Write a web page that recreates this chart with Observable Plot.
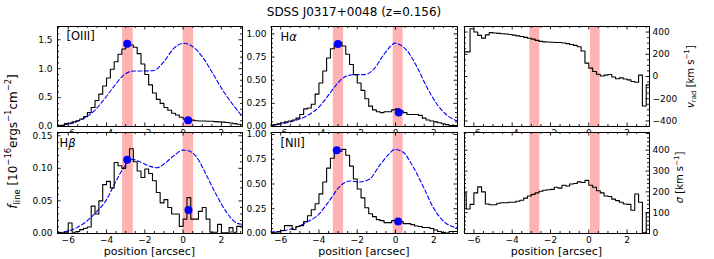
<!DOCTYPE html>
<html><head><meta charset="utf-8">
<script src="https://cdn.jsdelivr.net/npm/d3@7"></script>
<script src="https://cdn.jsdelivr.net/npm/@observablehq/plot@0.6"></script>
<style>
html,body{margin:0;padding:0;background:#fff;}
#fig{position:relative;width:714px;height:259px;overflow:hidden;font-family:"DejaVu Sans",sans-serif;}
#fig svg{position:absolute;}
</style></head><body><div id="fig"></div>
<script>
// ---------- data ----------
const positions = [-6.7,-6.5,-6.3,-6.1,-5.9,-5.7,-5.5,-5.3,-5.1,-4.9,-4.7,-4.5,-4.3,-4.1,-3.9,-3.7,-3.5,-3.3,-3.1,-2.9,-2.7,-2.5,-2.3,-2.1,-1.9,-1.7,-1.5,-1.3,-1.1,-0.9,-0.7,-0.5,-0.3,-0.1,0.1,0.3,0.5,0.7,0.9,1.1,1.3,1.5,1.7,1.9,2.1,2.3,2.5,2.7,2.9,3.1,3.3];

const fluxOIII = [0.01,0.01,0.02,0.05,0.06,0.08,0.10,0.13,0.17,0.24,0.33,0.45,0.56,0.70,0.84,0.99,1.12,1.25,1.34,1.39,1.41,1.37,1.26,1.08,0.90,0.72,0.58,0.47,0.40,0.33,0.28,0.23,0.20,0.16,0.13,0.12,0.11,0.10,0.095,0.095,0.09,0.09,0.085,0.08,0.075,0.07,0.06,0.05,0.04,0.03,0.03];
const fluxHa = [0.01,0.01,0.02,0.03,0.04,0.05,0.06,0.07,0.09,0.13,0.19,0.20,0.24,0.35,0.47,0.60,0.74,0.84,0.89,0.91,0.87,0.78,0.67,0.56,0.47,0.39,0.30,0.22,0.18,0.16,0.15,0.16,0.16,0.18,0.19,0.17,0.15,0.13,0.13,0.13,0.12,0.09,0.07,0.06,0.05,0.04,0.03,0.02,0.01,0.01,0.01];
const fluxHb = [0.001,0.001,0.001,0.002,0.016,0.002,0.003,0.006,0.008,0.010,0.042,0.030,0.050,0.075,0.080,0.070,0.109,0.104,0.100,0.117,0.130,0.110,0.096,0.086,0.099,0.092,0.081,0.063,0.047,0.052,0.040,0.030,0.030,0.011,0.022,0.055,0.022,0.022,0.034,0.040,0.022,0.002,0.002,0.014,0.001,0.001,0.009,0.002,0.011,0.011,0.011];
const fluxNII = [0.01,0.01,0.012,0.015,0.03,0.08,0.08,0.04,0.07,0.08,0.12,0.18,0.24,0.30,0.40,0.52,0.66,0.76,0.81,0.83,0.85,0.79,0.68,0.55,0.45,0.36,0.26,0.20,0.17,0.14,0.13,0.11,0.11,0.13,0.13,0.12,0.10,0.10,0.09,0.075,0.07,0.06,0.06,0.05,0.035,0.02,0.01,0.005,0.02,0.02,0.02];
const vrad = [222,222,222,430,400,370,345,375,395,392,388,385,382,378,372,366,360,352,344,336,325,316,312,310,308,306,306,302,296,288,280,268,230,120,75,45,20,5,12,18,-5,-20,-12,-22,-30,-45,-52,12,-265,-75,-75];
const sigma = [195,195,118,140,195,224,200,142,138,138,145,148,148,150,150,155,160,170,180,188,195,203,208,210,212,222,218,232,228,238,240,248,245,255,232,222,205,195,180,178,165,158,150,142,140,112,190,150,3,100,100];

// model (dashed) profiles
const modelXOIII = [-6.58,-5.89,-5.19,-4.67,-4.15,-3.62,-3.1,-2.58,-2.06,-1.53,-1.01,-0.49,0.03,0.55,1.08,1.6,2.12,2.64,3.1];
const modelYOIII = [0.01,0.046,0.14,0.26,0.46,0.69,0.89,0.96,0.96,0.97,1.12,1.35,1.44,1.37,1.17,0.89,0.6,0.36,0.17];
const modelXHa = [-6.48,-5.5,-4.6,-4,-3.57,-3.05,-2.7,-2.17,-1.65,-1.13,-0.6,0,0.26,0.6,1.13,1.65,2.17,2.7,3.22];
const modelYHa = [0.01,0.05,0.12,0.21,0.32,0.46,0.53,0.56,0.56,0.62,0.78,0.9,0.88,0.82,0.64,0.42,0.24,0.12,0.06];
const modelXHb = [-6.55,-5.55,-5.03,-4.5,-4,-3.55,-3.03,-2.68,-2.25,-1.72,-1.37,-0.94,-0.5,0,0.28,0.71,1.24,1.76,2.28,2.8,3.1];
const modelYHb = [0.001,0.009,0.019,0.034,0.052,0.078,0.104,0.114,0.11,0.103,0.101,0.108,0.119,0.128,0.127,0.117,0.088,0.058,0.032,0.016,0.014];
const modelXNII = [-6.53,-5.56,-4.68,-3.98,-3.46,-2.93,-2.4,-1.88,-1.35,-0.82,-0.3,-0.04,0.4,0.93,1.46,1.98,2.5,3.22];
const modelYNII = [0.014,0.04,0.11,0.2,0.33,0.47,0.53,0.52,0.55,0.69,0.81,0.85,0.82,0.67,0.47,0.26,0.126,0.058];

// aperture points
const dotXOIII = [-2.92, 0.26], dotYOIII = [1.43, 0.11];
const dotXHa = [-3.01, 0.17], dotYHa = [0.89, 0.15];
const dotXHb = [-2.92, 0.28], dotYHb = [0.113, 0.036];
const dotXNII = [-3.07, 0.14], dotYNII = [0.84, 0.12];

// aperture bands (start, end) per column
const bandStartLeft = [-3.16, 0.0], bandEndLeft = [-2.6, 0.55];
const bandStartMid = [-3.25, -0.12], bandEndMid = [-2.71, 0.4];
const bandStartRight = [-3.08, 0.09], bandEndRight = [-2.56, 0.59];

// axis domains and ticks
const xDomLeft = [-6.56, 3.1], xDomMid = [-6.48, 3.24], xDomRight = [-6.49, 3.17];
const xMajor = [-6, -4, -2, 0, 2];
const xMajorLabels = ["−6", "−4", "−2", "0", "2"];
const xMinor = [-6.5,-5.5,-5,-4.5,-3.5,-3,-2.5,-1.5,-1,-0.5,0.5,1,1.5,2.5,3];

const yMajorOIII = [0, 0.5, 1.0, 1.5], yLabelsOIII = ["0.0", "0.5", "1.0", "1.5"];
const yMajorHa = [0, 0.25, 0.5, 0.75, 1.0], yLabelsHa = ["0.00", "0.25", "0.50", "0.75", "1.00"];
const yMajorHb = [0, 0.05, 0.10, 0.15], yLabelsHb = ["0.00", "0.05", "0.10", "0.15"];
const yMajorV = [-400, -200, 0, 200, 400], yLabelsV = ["−400", "−200", "0", "200", "400"];
const yMajorS = [0, 100, 200, 300, 400], yLabelsS = ["0", "100", "200", "300", "400"];

const lineNames = ["[OIII]", "Hα", "Hβ", "[NII]"];

// ---------- drawing ----------
const fig = document.getElementById("fig");

function minorTicks(step, dom, majors) {
  const out = [];
  const start = Math.ceil(dom[0] / step - 1e-9);
  for (let k = start; k * step <= dom[1] + 1e-9; k++) {
    const v = +(k * step).toFixed(6);
    if (!majors.some(m => Math.abs(m - v) < 1e-9)) out.push(v);
  }
  return out;
}

function panel(p) {
  const [x0, y0, w, h] = p.frame;
  const ML = 40, MR = 40, MT = 12, MB = 24;
  const rows = positions.map((x, i) => ({x, y: p.series[i]}));
  const bands = p.bandStart.map((s, i) => ({a: s, b: p.bandEnd[i]}));
  const yMinor = minorTicks(p.yMinorStep, p.yDomain, p.yMajor);
  const marks = [];
  if (p.cover) marks.push(Plot.frame({fill: "white", stroke: "none"}));
  marks.push(Plot.rect(bands, {x1: "a", x2: "b", y1: p.yDomain[0], y2: p.yDomain[1], fill: "#ff0000", fillOpacity: 0.3}));
  if (p.modelX) {
    const m = p.modelX.map((x, i) => ({x, y: p.modelY[i]}));
    marks.push(Plot.line(m, {x: "x", y: "y", stroke: "#0000ff", strokeWidth: 1.1, strokeDasharray: "4,2.4", curve: "monotone-x", clip: true}));
  }
  marks.push(Plot.line(rows, {x: "x", y: "y", curve: "step", stroke: "black", strokeWidth: 1.1, clip: true}));
  if (p.dotX) {
    const d = p.dotX.map((x, i) => ({x, y: p.dotY[i]}));
    marks.push(Plot.dot(d, {x: "x", y: "y", r: 4, fill: "#0000ff", stroke: "none"}));
  }
  const tk = {stroke: "black", strokeWidth: 0.9};
  marks.push(
    Plot.tickX(xMajor, {x: d => d, insetTop: h - 3.5, ...tk}),
    Plot.tickX(xMajor, {x: d => d, insetBottom: h - 3.5, ...tk}),
    Plot.tickX(xMinor, {x: d => d, insetTop: h - 2, ...tk}),
    Plot.tickX(xMinor, {x: d => d, insetBottom: h - 2, ...tk}),
    Plot.tickY(p.yMajor, {y: d => d, insetRight: w - 3.5, ...tk}),
    Plot.tickY(p.yMajor, {y: d => d, insetLeft: w - 3.5, ...tk}),
    Plot.tickY(yMinor, {y: d => d, insetRight: w - 2, ...tk}),
    Plot.tickY(yMinor, {y: d => d, insetLeft: w - 2, ...tk}),
    Plot.frame({stroke: "black", strokeWidth: 1}),
    Plot.axisX({ticks: xMajor, tickSize: 0, tickPadding: 3.5, tickFormat: d => xMajorLabels[xMajor.indexOf(d)], label: null, fill: "black"}),
    Plot.axisY({anchor: p.ySide, ticks: p.yMajor, tickSize: 0, tickPadding: p.ySide === "left" ? 5 : 3,
      tickFormat: d => p.yLabels[p.yMajor.indexOf(d)], label: null, fill: "black"})
  );
  const svg = Plot.plot({
    width: w + ML + MR, height: h + MT + MB,
    marginLeft: ML, marginRight: MR, marginTop: MT, marginBottom: MB,
    x: {domain: p.xDomain}, y: {domain: p.yDomain},
    style: {background: "transparent", overflow: "visible", fontFamily: "DejaVu Sans", fontSize: "9px", color: "black"},
    marks
  });
  svg.style.left = (x0 - ML) + "px";
  svg.style.top = (y0 - MT) + "px";
  fig.appendChild(svg);
}

const panels = [
  {frame: [57, 26, 185, 100], xDomain: xDomLeft, yDomain: [0, 1.73], series: fluxOIII, modelX: modelXOIII, modelY: modelYOIII, dotX: dotXOIII, dotY: dotYOIII,
   bandStart: bandStartLeft, bandEnd: bandEndLeft, yMajor: yMajorOIII, yLabels: yLabelsOIII, yMinorStep: 0.1, ySide: "left"},
  {frame: [271, 26, 186, 100], xDomain: xDomMid, yDomain: [0, 1.08], series: fluxHa, modelX: modelXHa, modelY: modelYHa, dotX: dotXHa, dotY: dotYHa,
   bandStart: bandStartMid, bandEnd: bandEndMid, yMajor: yMajorHa, yLabels: yLabelsHa, yMinorStep: 0.05, ySide: "left"},
  {frame: [464, 26, 185, 100], xDomain: xDomRight, yDomain: [-450, 450], series: vrad,
   bandStart: bandStartRight, bandEnd: bandEndRight, yMajor: yMajorV, yLabels: yLabelsV, yMinorStep: 50, ySide: "right"},
  {frame: [57, 132, 185, 101], xDomain: xDomLeft, yDomain: [0, 0.155], series: fluxHb, modelX: modelXHb, modelY: modelYHb, dotX: dotXHb, dotY: dotYHb,
   bandStart: bandStartLeft, bandEnd: bandEndLeft, yMajor: yMajorHb, yLabels: yLabelsHb, yMinorStep: 0.01, ySide: "left", cover: true},
  {frame: [271, 132, 186, 101], xDomain: xDomMid, yDomain: [0, 1.02], series: fluxNII, modelX: modelXNII, modelY: modelYNII, dotX: dotXNII, dotY: dotYNII,
   bandStart: bandStartMid, bandEnd: bandEndMid, yMajor: yMajorHa, yLabels: yLabelsHa, yMinorStep: 0.05, ySide: "left", cover: true},
  {frame: [464, 132, 185, 101], xDomain: xDomRight, yDomain: [0, 485], series: sigma,
   bandStart: bandStartRight, bandEnd: bandEndRight, yMajor: yMajorS, yLabels: yLabelsS, yMinorStep: 20, ySide: "right", cover: true}
];
panels.forEach(panel);

// ---------- text overlay ----------
const ov = d3.select(fig).append("svg")
  .attr("width", 714).attr("height", 259)
  .style("left", "0px").style("top", "0px").style("pointer-events", "none")
  .attr("font-family", "DejaVu Sans").attr("fill", "black");

function rich(textSel, parts, fs) {
  let shift = 0;
  for (const p of parts) {
    const target = p.sub ? 0.28 * fs : p.sup ? -0.42 * fs : 0;
    const ts = textSel.append("tspan").text(p.t).attr("dy", target - shift);
    shift = target;
    if (p.sub || p.sup) ts.attr("font-size", 0.7 * fs);
    if (p.i) ts.attr("font-style", "italic");
  }
}

ov.append("text").attr("x", 354).attr("y", 15.7).attr("text-anchor", "middle").attr("font-size", 12)
  .text("SDSS J0317+0048 (z=0.156)");

// line names
const nameSpecs = [
  {x: 66.5, y: 39.5, parts: [{t: lineNames[0]}]},
  {x: 280.5, y: 40.5, parts: [{t: "H"}, {t: "α", i: true}]},
  {x: 59.5, y: 147, parts: [{t: "H"}, {t: "β", i: true}]},
  {x: 280.5, y: 147, parts: [{t: lineNames[3]}]}
];
for (const s of nameSpecs) {
  const t = ov.append("text").attr("x", s.x).attr("y", s.y).attr("font-size", 11.5);
  rich(t, s.parts, 11.5);
}

// x axis labels
for (const cx of [149.5, 364, 556.5]) {
  ov.append("text").attr("x", cx).attr("y", 255).attr("text-anchor", "middle").attr("font-size", 11)
    .text("position [arcsec]");
}

// left y label
{
  const t = ov.append("text").attr("transform", "translate(16.5,141.5) rotate(-90)")
    .attr("text-anchor", "middle").attr("font-size", 12);
  rich(t, [{t: "f", i: true}, {t: "line", sub: true}, {t: " [10"}, {t: "−16", sup: true}, {t: "ergs"},
           {t: "−1", sup: true}, {t: "cm"}, {t: "−2", sup: true}, {t: "]"}], 12);
}
// right y labels
{
  const t = ov.append("text").attr("transform", "translate(693.5,76.7) rotate(-90)")
    .attr("text-anchor", "middle").attr("font-size", 10);
  rich(t, [{t: "v", i: true}, {t: "rad", sub: true}, {t: " [km s"}, {t: "−1", sup: true}, {t: "]"}], 10);
  const t2 = ov.append("text").attr("transform", "translate(683.3,177.5) rotate(-90)")
    .attr("text-anchor", "middle").attr("font-size", 10);
  rich(t2, [{t: "σ", i: true}, {t: " [km s"}, {t: "−1", sup: true}, {t: "]"}], 10);
}
</script>
</body></html>
